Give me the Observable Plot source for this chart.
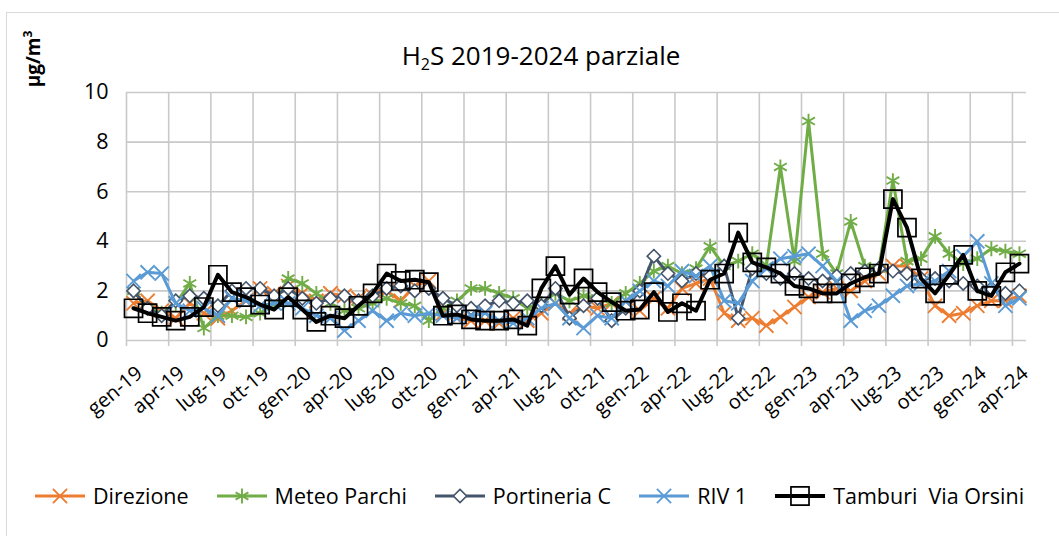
<!DOCTYPE html>
<html><head><meta charset="utf-8">
<script src="https://cdn.jsdelivr.net/npm/d3@7"></script>
<script src="https://cdn.jsdelivr.net/npm/@observablehq/plot@0.6"></script>
<style>
body{margin:0;background:#fff;}
#wrap{position:relative;width:1059px;height:536px;overflow:hidden;font-family:"Open Sans",Lato,sans-serif;color:#000;background:#fff;}
#frame{position:absolute;left:6px;top:12px;width:1100px;height:600px;border:1px solid #d9d9d9;}
#title{position:absolute;left:0;width:1082px;top:42px;text-align:center;font-size:26px;line-height:1;}
#title sub{font-size:16px;vertical-align:-5px;line-height:0;}
#unit{position:absolute;left:33px;top:59px;transform:translate(-50%,-50%) rotate(-90deg);font-weight:bold;font-size:19px;white-space:nowrap;line-height:1;}
#unit sup{font-size:12px;vertical-align:8px;line-height:0;}
#plot{position:absolute;left:0;top:80px;}
#legend{position:absolute;left:33px;top:481px;display:flex;align-items:center;font-size:21.5px;white-space:pre;}
.item{display:flex;align-items:center;margin-right:26px;}
.item svg{margin-right:6px;}
</style></head><body>
<div id="wrap">
  <div id="frame"></div>
  <div id="title">H<sub>2</sub>S 2019-2024 parziale</div>
  <div id="unit">µg/m<sup>3</sup></div>
  <div id="plot"></div>
  <div id="legend"></div>
</div>
<script>
// ---- data ----
const tickLabels = ["gen-19","apr-19","lug-19","ott-19","gen-20","apr-20","lug-20","ott-20","gen-21","apr-21","lug-21","ott-21","gen-22","apr-22","lug-22","ott-22","gen-23","apr-23","lug-23","ott-23","gen-24","apr-24"];
const nMonths = 64;
const yTicks = [0,2,4,6,8,10];
const seriesNames = ["Direzione","Meteo Parchi","Portineria C","RIV 1","Tamburi  Via Orsini"];
const direzione = [1.5,1.6,1.2,0.9,1.5,1.1,0.9,1.2,1.6,2.1,1.9,2.2, 1.9,1.6,1.9,1.8,1.7,1.8,2.0,1.6,2.2,2.4,1.1,0.9, 0.8,0.8,0.7,0.9,0.8,1.1,1.5,1.1,1.4,1.3,1.5,1.3, 1.2,1.7,1.3,2.1,2.3,2.5,1.1,0.8,0.9,0.6,0.95,1.35, 1.75,1.95,2.1,2.0,2.4,2.7,3.0,3.0,2.5,1.4,1.0,1.1, 1.4,1.6,1.6,1.8];
const meteoParchi = [2.0,1.3,1.1,1.5,2.3,0.5,1.0,1.0,0.95,1.1,1.5,2.5, 2.3,1.9,1.5,1.2,1.3,1.5,1.7,1.5,1.4,0.8,1.3,1.6, 2.1,2.1,1.9,1.7,1.3,1.5,1.9,1.6,1.8,1.7,1.5,1.9, 2.3,2.8,3.0,2.7,2.9,3.8,3.0,3.2,3.5,3.0,7.0,3.2, 8.85,3.5,2.7,4.8,3.0,2.9,6.45,3.2,3.3,4.2,3.5,3.1, 3.3,3.7,3.6,3.5];
const portineriaC = [2.0,1.3,1.0,1.6,1.8,1.7,1.4,2.0,2.1,2.1,1.8,2.1, 1.7,1.5,1.7,1.8,1.6,1.8,2.1,2.2,2.0,2.1,1.7,1.4, 1.3,1.4,1.6,1.5,1.6,1.4,2.1,0.9,1.4,1.7,0.8,1.3, 2.0,3.4,2.7,2.4,2.7,2.6,3.0,0.9,2.9,2.7,2.5,2.7, 2.5,2.4,2.6,2.7,2.8,2.9,2.8,2.7,2.5,2.5,2.4,2.3, 2.2,2.1,1.9,2.0];
const riv1 = [2.4,2.75,2.7,1.5,1.2,1.3,1.0,1.7,1.6,1.4,1.5,1.5, 1.3,1.0,0.9,0.4,0.8,1.2,0.8,1.1,1.0,1.1,1.0,0.9, 1.0,1.1,0.8,0.7,0.9,1.3,1.5,0.9,0.5,1.0,0.9,1.6, 2.0,2.4,2.2,2.8,2.6,3.0,1.6,1.5,2.4,2.9,3.3,3.4, 3.5,3.0,2.4,0.8,1.2,1.4,1.8,2.2,2.3,2.4,2.8,3.4, 4.0,2.3,1.4,1.7];
const tamburi = [1.3,1.1,0.95,0.8,0.95,1.35,2.65,1.95,1.75,1.45,1.25,1.75, 1.25,0.75,1.0,0.9,1.4,1.9,2.7,2.4,2.45,2.35,1.0,1.05, 0.85,0.8,0.8,0.85,0.6,2.1,3.0,1.85,2.5,1.95,1.55,1.2, 1.25,1.95,1.15,1.5,1.2,2.45,2.7,4.35,3.15,2.95,2.7,2.2, 2.1,1.9,1.9,2.3,2.55,2.7,5.7,4.55,2.5,1.9,2.65,3.45, 2.0,1.8,2.75,3.1];

// ---- styles ----
const styles = [
  {color:"#ED7D31", symbol:"times",    r:6.5, sw:3,   mw:1.9, fill:"none"},
  {color:"#70AD47", symbol:"asterisk", r:7,   sw:3,   mw:1.9, fill:"none"},
  {color:"#44546A", symbol:"diamond2", r:6,   sw:3,   mw:1.6, fill:"white"},
  {color:"#5B9BD5", symbol:"times",    r:6.5, sw:3,   mw:1.9, fill:"none"},
  {color:"#000000", symbol:"square2",  r:11.5,sw:4,   mw:1.7, fill:"none"}
];
const allValues = [direzione, meteoParchi, portineriaC, riv1, tamburi];
const series = seriesNames.map((name, s) => ({
  name, style: styles[s],
  data: allValues[s].map((v, i) => ({i, v, name}))
}));

const boundaries = tickLabels.map((_, k) => k * 3 - 0.5);
const grid = "#c9c9c9";

const marks = [
  Plot.ruleY(yTicks, {y: d => d, stroke: grid, strokeWidth: 1.6}),
  Plot.ruleX(boundaries, {x: d => d, y1: 0, y2: 10, stroke: grid, strokeWidth: 1.6}),
  Plot.ruleX(boundaries, {x: d => d, y1: 0, y2: -0.24, stroke: grid, strokeWidth: 1.6}),
  Plot.text(yTicks, {x: -0.5, y: d => d, text: d => String(d), textAnchor: "end", dx: -18, fontSize: 21.5, fill: "#000"}),
  Plot.text(tickLabels, {x: (d, k) => k * 3, y: 0, text: d => d, rotate: -40, textAnchor: "end", lineAnchor: "middle", dx: 6, dy: 30, fontSize: 20, fill: "#000"})
];
for (const s of series) {
  marks.push(Plot.line(s.data, {x: "i", y: "v", stroke: s.style.color, strokeWidth: s.style.sw, strokeLinejoin: "round", strokeLinecap: "round"}));
  marks.push(Plot.dot(s.data, {x: "i", y: "v", symbol: s.style.symbol, r: s.style.r, stroke: s.style.color, strokeWidth: s.style.mw, fill: s.style.fill}));
}

const chart = Plot.plot({
  width: 1059, height: 328,
  marginTop: 12, marginBottom: 68, marginLeft: 126, marginRight: 33,
  x: {domain: [-0.5, nMonths - 0.5], axis: null},
  y: {domain: [0, 10], axis: null},
  style: {fontFamily: "'Open Sans', Lato, sans-serif", background: "transparent", overflow: "visible"},
  marks
});
document.getElementById("plot").appendChild(chart);

// ---- legend ----
const symMap = {times: d3.symbolTimes, asterisk: d3.symbolAsterisk, diamond2: d3.symbolDiamond2, square2: d3.symbolSquare2};
const legend = d3.select("#legend");
for (const s of series) {
  const item = legend.append("div").attr("class", "item");
  const svg = item.append("svg").attr("width", 54).attr("height", 26);
  svg.append("line").attr("x1", 2).attr("x2", 52).attr("y1", 13).attr("y2", 13)
    .attr("stroke", s.style.color).attr("stroke-width", s.style.sw);
  svg.append("path").attr("transform", "translate(27,13)")
    .attr("d", d3.symbol(symMap[s.style.symbol], Math.PI * s.style.r * s.style.r)())
    .attr("stroke", s.style.color).attr("stroke-width", s.style.mw).attr("fill", s.style.fill);
  item.append("span").text(s.name);
}
</script>
</body></html>
